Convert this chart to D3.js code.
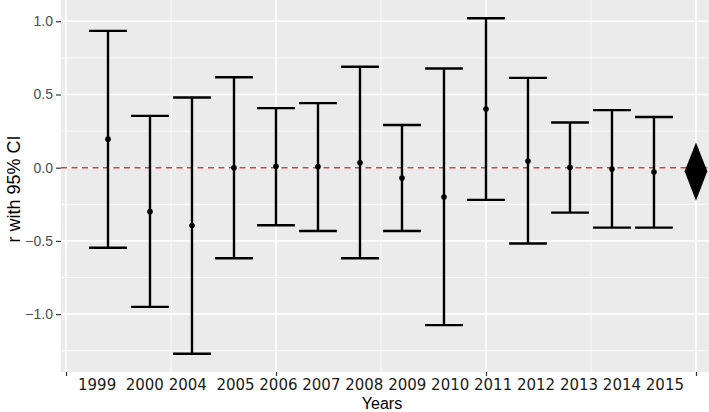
<!DOCTYPE html>
<html>
<head>
<meta charset="utf-8">
<script src="https://cdn.jsdelivr.net/npm/d3@7"></script>
<style>
  body { margin: 0; background: #fff; }
  svg { display: block; }
  .ytick text { font-family: "Liberation Sans", Arial, sans-serif; font-size: 14px; fill: #4d4d4d; }
  .axistitle { font-family: "Liberation Sans", Arial, sans-serif; font-size: 18px; fill: #000; }
  .xtitle { font-family: "Liberation Sans", Arial, sans-serif; font-size: 16px; fill: #000; }
  .yearrow { font-family: "DejaVu Sans", Verdana, sans-serif; font-size: 15px; fill: #1a1a1a; white-space: pre; }
</style>
</head>
<body>
<div id="chart"></div>
<script>

// Data: correlation r with 95% CI per year
const years = [1999, 2000, 2004, 2005, 2006, 2007, 2008, 2009, 2010, 2011, 2012, 2013, 2014, 2015];
const estimate = [0.195, -0.30, -0.395, 0.0, 0.009, 0.007, 0.034, -0.07, -0.20, 0.40, 0.046, 0.002, -0.009, -0.029];
const lower = [-0.547, -0.95, -1.27, -0.618, -0.393, -0.432, -0.618, -0.432, -1.075, -0.22, -0.518, -0.307, -0.409, -0.409];
const upper = [0.934, 0.354, 0.479, 0.618, 0.407, 0.441, 0.689, 0.291, 0.677, 1.02, 0.613, 0.309, 0.393, 0.346];

// Pooled estimate (diamond), drawn at position 15
const pooled = { x: 15, est: -0.025, lo: -0.225, hi: 0.172 };

// Tick values
const yTicks = [-1.0, -0.5, 0.0, 0.5, 1.0];
const yMinor = [-1.25, -0.75, -0.25, 0.25, 0.75];
const xTicks = [0, 5, 10, 15];
const xMinor = [2.5, 7.5, 12.5];

// Year labels are written as one text row under the axis (as in the original)
const yearRowText = "1999  2000 2004  2005 2006 2007 2008 2009 2010 2011 2012 2013 2014 2015";

// Dimensions
const W = 709, H = 412;
const margin = { top: 0, right: 0, bottom: 40, left: 61 };
const width = W - margin.left - margin.right,
      height = H - margin.top - margin.bottom;

const svg = d3.select("#chart").append("svg")
	.attr("width", W)
	.attr("height", H);

// Scales
const x = d3.scaleLinear()
	.domain([-0.119, 15.31])
	.range([margin.left, margin.left + width]);

const y = d3.scaleLinear()
	.domain([-1.395, 1.145])
	.range([margin.top + height, margin.top]);

// Panel background
svg.append("rect")
	.attr("x", margin.left).attr("y", margin.top)
	.attr("width", width).attr("height", height)
	.attr("fill", "#ebebeb");

// Grid lines
const grid = svg.append("g");
grid.selectAll(".yminor").data(yMinor).join("line")
	.attr("x1", margin.left).attr("x2", margin.left + width)
	.attr("y1", d => y(d)).attr("y2", d => y(d))
	.attr("stroke", "#fff").attr("stroke-width", 0.8);
grid.selectAll(".xminor").data(xMinor).join("line")
	.attr("y1", margin.top).attr("y2", margin.top + height)
	.attr("x1", d => x(d)).attr("x2", d => x(d))
	.attr("stroke", "#fff").attr("stroke-width", 0.8);
grid.selectAll(".ymajor").data(yTicks).join("line")
	.attr("x1", margin.left).attr("x2", margin.left + width)
	.attr("y1", d => y(d)).attr("y2", d => y(d))
	.attr("stroke", "#fff").attr("stroke-width", 1.6);
grid.selectAll(".xmajor").data(xTicks).join("line")
	.attr("y1", margin.top).attr("y2", margin.top + height)
	.attr("x1", d => x(d)).attr("x2", d => x(d))
	.attr("stroke", "#fff").attr("stroke-width", 1.6);

// y-axis
const yAxis = d3.axisLeft(y)
	.tickValues(yTicks)
	.tickFormat(d => d3.format(".1f")(d).replace("-", "\u2212"))
	.tickSize(5)
	.tickPadding(3);
const yAxisEl = svg.append("g")
	.attr("class", "ytick")
	.attr("transform", "translate(" + margin.left + ",0)")
	.call(yAxis);
yAxisEl.select(".domain").remove();
yAxisEl.selectAll("line").attr("stroke", "#333").attr("stroke-width", 1.2);

// x-axis (ticks only, no labels)
const xAxis = d3.axisBottom(x)
	.tickValues(xTicks)
	.tickFormat("")
	.tickSize(4);
const xAxisEl = svg.append("g")
	.attr("transform", "translate(0," + (margin.top + height) + ")")
	.call(xAxis);
xAxisEl.select(".domain").remove();
xAxisEl.selectAll("line").attr("stroke", "#333").attr("stroke-width", 1.2);

// Reference line at r = 0
svg.append("line")
	.attr("x1", margin.left).attr("x2", margin.left + width)
	.attr("y1", y(0)).attr("y2", y(0))
	.attr("stroke", "#d93d3d")
	.attr("stroke-width", 1.4)
	.attr("stroke-dasharray", "6,4.5");

// Error bars
const rows = years.map((yr, i) => ({ pos: i + 1, yr: yr, est: estimate[i], lo: lower[i], hi: upper[i] }));
const capHalf = 0.45;

const bars = svg.append("g").selectAll("g")
	.data(rows)
	.join("g")
	.attr("stroke", "#000")
	.attr("stroke-width", 2.4);
bars.append("line")
	.attr("x1", d => x(d.pos)).attr("x2", d => x(d.pos))
	.attr("y1", d => y(d.lo)).attr("y2", d => y(d.hi));
bars.append("line")
	.attr("x1", d => x(d.pos - capHalf)).attr("x2", d => x(d.pos + capHalf))
	.attr("y1", d => y(d.hi)).attr("y2", d => y(d.hi));
bars.append("line")
	.attr("x1", d => x(d.pos - capHalf)).attr("x2", d => x(d.pos + capHalf))
	.attr("y1", d => y(d.lo)).attr("y2", d => y(d.lo));

svg.append("g").selectAll("circle")
	.data(rows)
	.join("circle")
	.attr("cx", d => x(d.pos))
	.attr("cy", d => y(d.est))
	.attr("r", 2.8)
	.attr("fill", "#000");

// Pooled diamond
const dHalf = 0.27;
svg.append("polygon")
	.attr("points", [
		[x(pooled.x), y(pooled.hi)],
		[x(pooled.x + dHalf), y(pooled.est)],
		[x(pooled.x), y(pooled.lo)],
		[x(pooled.x - dHalf), y(pooled.est)]
	].map(p => p.join(",")).join(" "))
	.attr("fill", "#000");

// Axis titles
const cx = margin.left + width / 2;
svg.append("text")
	.attr("class", "yearrow")
	.attr("x", cx - 4)
	.attr("y", 390)
	.attr("text-anchor", "middle")
	.text(yearRowText);
svg.append("text")
	.attr("class", "xtitle")
	.attr("x", cx - 3)
	.attr("y", 409)
	.attr("text-anchor", "middle")
	.text("Years");
svg.append("text")
	.attr("class", "axistitle")
	.attr("transform", "translate(20," + (margin.top + height / 2 + 3) + ") rotate(-90)")
	.attr("text-anchor", "middle")
	.text("r with 95% CI");

</script>
</body>
</html>
